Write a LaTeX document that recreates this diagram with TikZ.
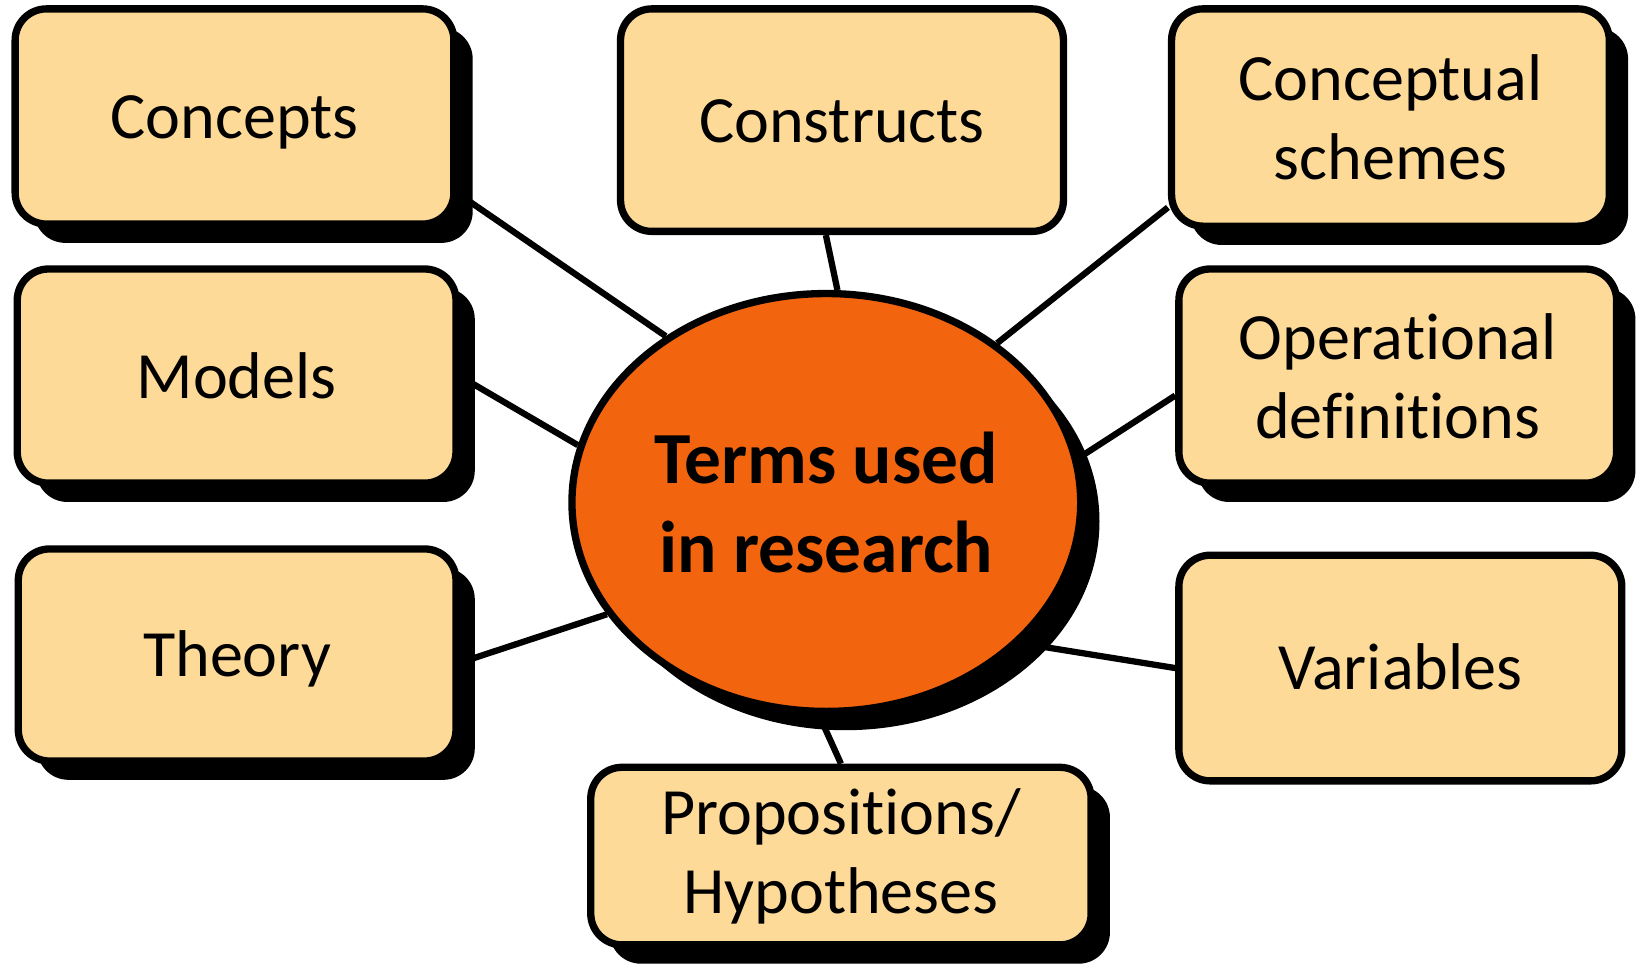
\documentclass[tikz,border=0pt]{standalone}
\usepackage{fontspec}
\setmainfont{Carlito}[Ligatures={NoCommon,NoRequired,NoContextual}]
\usepackage{tikz}
\usetikzlibrary{shapes.geometric,shadows,backgrounds}
\definecolor{boxfill}{HTML}{FDDA98}
\definecolor{hubfill}{HTML}{F2640E}
\tikzstyle{termbox}=[draw,line width=0.07cm,rounded corners=0.3cm,fill=boxfill,align=center,inner sep=0pt,font=\fontsize{18}{21.5}\selectfont]
\tikzstyle{oneline}=[text height=0.42cm,text depth=0cm]
\tikzstyle{boxshadow}=[drop shadow={shadow xshift=0.18cm,shadow yshift=-0.18cm,fill=black,opacity=1}]

\begin{document}
\begin{tikzpicture}

\tikzstyle{hub}=[ellipse,draw,line width=0.07cm,fill=hubfill,align=center,inner sep=0pt,font=\fontsize{20}{24}\selectfont\bfseries]
\tikzstyle{link}=[line width=0.06cm]

\useasboundingbox (0,0) rectangle (15.68,-9.24);

\node (T) [hub,boxshadow,minimum width=4.87cm,minimum height=4cm] at (7.91,-4.81)  {Terms used\\in research};

\node (A) [termbox,oneline,boxshadow,minimum width=4.2cm,minimum height=2.06cm] at (2.245,-1.115)  {Concepts};
\node (B) [termbox,oneline,minimum width=4.24cm,minimum height=2.13cm] at (8.06,-1.15)             {Constructs};
\node (C) [termbox,boxshadow,minimum width=4.19cm,minimum height=2.08cm] at (13.31,-1.125)        {Conceptual\\schemes};
\node (D) [termbox,oneline,boxshadow,minimum width=4.2cm,minimum height=2.05cm] at (2.265,-3.6)    {Models};
\node (E) [termbox,boxshadow,minimum width=4.19cm,minimum height=2.05cm] at (13.38,-3.6)          {Operational\\definitions};
\node (F) [termbox,oneline,boxshadow,minimum width=4.19cm,minimum height=2.03cm] at (2.27,-6.27)   {Theory};
\node (G) [termbox,oneline,minimum width=4.24cm,minimum height=2.16cm] at (13.405,-6.395)          {Variables};
\node (H) [termbox,boxshadow,minimum width=4.79cm,minimum height=1.7cm] at (8.05,-8.195)          {Propositions/\\Hypotheses};

\begin{pgfonlayer}{background}
\draw [link] (A.-19) -- (T.134);
\draw [link] (B.262) -- (T.87);
\draw [link] (C.202) -- (T.43);
\draw [link] (D.east) -- (T.167);
\draw [link] (E.185) -- (T.10);
\draw [link] (F.-2) -- (T.207);
\draw [link] (G.west) -- (T.324);
\draw [link] (H.north) -- (T.268);
\end{pgfonlayer}

\end{tikzpicture}
\end{document}
